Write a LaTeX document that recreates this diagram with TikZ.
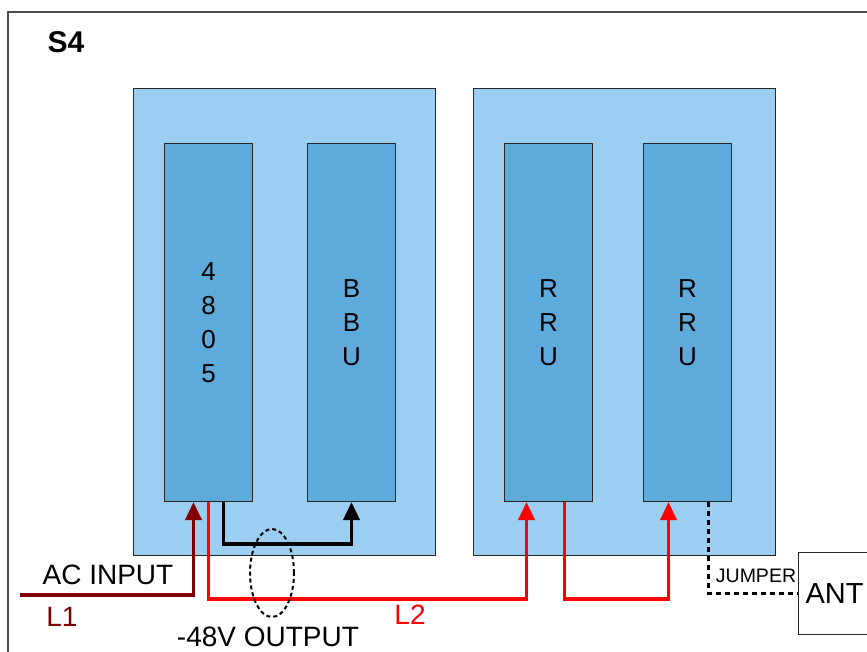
\documentclass[tikz,border=0pt]{standalone}
\usepackage{fontspec}
\setmainfont{Liberation Sans}
\usetikzlibrary{arrows.meta,shapes.geometric}
\definecolor{rackblue}{HTML}{9BCEF0}
\definecolor{unitblue}{HTML}{5DAADB}
\definecolor{acred}{HTML}{800000}
\tikzset{
  rack/.style={draw=black!85,line width=1pt,fill=rackblue,minimum width=302pt,minimum height=467pt,inner sep=0pt,anchor=north west},
  unit/.style={draw=black!85,line width=1pt,fill=unitblue,minimum width=88pt,minimum height=358pt,inner sep=0pt,anchor=north west,align=center,font=\fontsize{26}{34}\selectfont},
  feed/.style={line width=3.5pt,-{Triangle[length=18pt,width=16pt]}},
  lbl/.style={font=\fontsize{28}{32}\selectfont,inner sep=0pt}
}
\begin{document}
\begin{tikzpicture}[x=1pt,y=-1pt]
\useasboundingbox (0,0) rectangle (867,651);
\draw[black!70,line width=1.2pt] (8,660) -- (8,12) -- (880,12);
\node[font=\fontsize{30}{34}\selectfont\bfseries] (s4) at (66,42) {S4};
% racks
\node[rack] (rackl) at (133,88) {};
\node[rack] (rackr) at (473,88) {};
% units
\node[unit] (psu) at (164,143) {4\\8\\0\\5};
\node[unit] (bbu) at (307,143) {B\\B\\U};
\node[unit] (rru1) at (504,143) {R\\R\\U};
\node[unit] (rru2) at (643,143) {R\\R\\U};
\node[draw=black!85,line width=1pt,fill=white,minimum width=72pt,minimum height=82pt,anchor=north west,inner sep=0pt,font=\fontsize{29}{32}\selectfont] (ant) at (798,552) {ANT};
% cables
\coordinate (acin) at (20,595);
\draw[feed,acred] (acin) -| ([xshift=-15pt]psu.south);
\draw[feed,black] ([xshift=15pt]psu.south) |- +(0,42) -| (bbu.south);
\draw[feed,red] (psu.south) |- +(0,97) -| ([xshift=-22pt]rru1.south);
\draw[feed,red] ([xshift=16pt]rru1.south) |- +(0,97) -| ([xshift=-19pt]rru2.south);
\draw[line width=3pt,dash pattern=on 5pt off 4pt] ([xshift=21pt]rru2.south) |- (ant.west);
\node[ellipse,draw,line width=2pt,dash pattern=on 4pt off 3pt,minimum width=44pt,minimum height=88pt,inner sep=0pt] (bundle) at (272,573) {};
% labels
\node[lbl] (aclbl) at (108,575) {AC INPUT};
\node[lbl,text=acred] (l1) at (62,617) {L1};
\node[lbl,text=red] (l2) at (410,615) {L2};
\node[lbl] (outlbl) at (268,637) {-48V OUTPUT};
\node[inner sep=0pt,font=\fontsize{19.5}{22}\selectfont] (jlbl) at (756,576) {JUMPER};
\end{tikzpicture}
\end{document}
